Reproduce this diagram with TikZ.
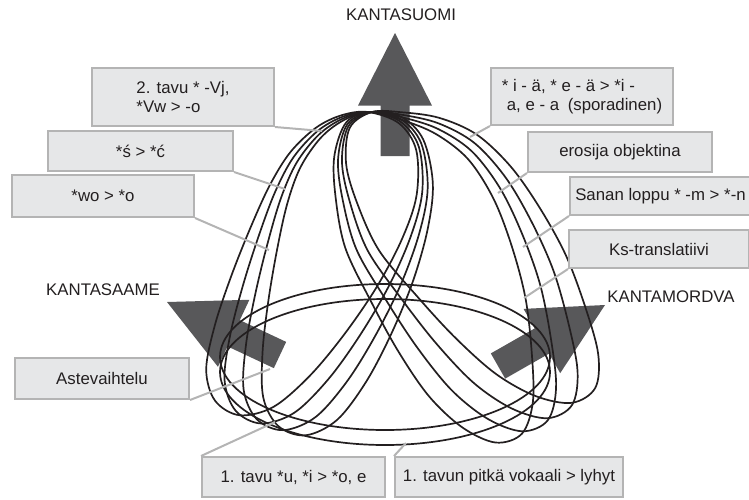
\documentclass[tikz,border=0pt]{standalone}
\usepackage{fontspec}
\setmainfont{Liberation Sans}
\usetikzlibrary{calc}
\definecolor{boxfill}{HTML}{E6E7E8}
\definecolor{boxline}{HTML}{B4B4B4}
\definecolor{arrowgray}{HTML}{58585A}
\definecolor{ink}{HTML}{231F20}
\newcommand\blockarrow[2]{%
  \coordinate (bah) at ($(#1)!0.41!(#2)$);
  \fill[arrowgray] ($(#1)!14.5pt!90:(#2)$) -- ($(bah)!14.5pt!90:(#2)$) -- ($(bah)!37pt!90:(#2)$) -- (#2)
    -- ($(bah)!37pt!-90:(#2)$) -- ($(bah)!14.5pt!-90:(#2)$) -- ($(#1)!14.5pt!-90:(#2)$) -- cycle;}
\begin{document}
\begin{tikzpicture}[x=1pt,y=-1pt,
  txt/.style={font=\fontsize{16.8}{18.5}\selectfont, text=ink},
  lbox/.style={txt, draw=boxline, line width=2pt, fill=boxfill, inner sep=0pt},
  conn/.style={draw=boxline, line width=2pt},
  lp/.style={draw=ink, line width=1.7pt}]
\useasboundingbox (0,0) rectangle (749,499);
% block arrows
\coordinate (tT) at (395,156); \coordinate (tP) at (395,33);
\coordinate (lT) at (280,355); \coordinate (lP) at (167,302);
\coordinate (rT) at (498,366); \coordinate (rP) at (605,305);
\blockarrow{tT}{tP}
\blockarrow{lT}{lP}
\blockarrow{rT}{rP}
% loops top-left
\foreach \r in {-6,-2,2,6} {
  \draw[lp, rotate around={\r:(368,112)}] plot[smooth cycle, tension=0.55] coordinates {
    (368,112) (342,118) (318,133) (295,160) (278,195) (263,240) (249,290) (238,340) (234,385)
    (246,415) (272,427) (305,415) (338,380) (368,335) (395,285) (415,235) (425,190) (420,145) (400,120)};
}
% loops top-right
\foreach \r in {-7,-2.3,2.3,7} {
  \draw[lp, rotate around={\r:(372,112)}] plot[smooth cycle, tension=0.55] coordinates {
    (372,112) (402,116) (438,126) (473,147) (503,183) (527,228) (547,278) (560,332) (567,380)
    (560,413) (535,425) (500,414) (463,387) (427,346) (394,300) (362,250) (346,200) (340,160) (348,125)};
}
% horizontal loops
\draw[lp] (385,357) ellipse [x radius=165pt, y radius=73pt];
\draw[lp] (385,372) ellipse [x radius=165pt, y radius=73pt];
% connector ends
\coordinate (c1) at (322,131); \coordinate (c2) at (285,189);
\coordinate (c3) at (269,250); \coordinate (c4) at (270,369);
\coordinate (c5) at (470,137); \coordinate (c6) at (498,193);
\coordinate (c7) at (523,247); \coordinate (c8) at (524,298);
\coordinate (c9) at (275,422); \coordinate (c10) at (406,443);
% labels
\node[txt] (kS) at (401,15) {KANTASUOMI};
\node[txt] (kSa) at (103,290) {KANTASAAME};
\node[txt] (kM) at (671,297) {KANTAMORDVA};
\node[lbox, minimum width=182pt, minimum height=58pt, align=left] (b1) at (183,97) {2. tavu * -Vj,\\*Vw > -o};
\node[lbox, minimum width=185pt, minimum height=40pt] (b2) at (140.5,151) {*ś > *ć};
\node[lbox, minimum width=182pt, minimum height=42pt] (b3) at (103,196) {*wo > *o};
\node[lbox, minimum width=174pt, minimum height=41pt] (b4) at (102,378.5) {Astevaihtelu};
\node[lbox, minimum width=182pt, minimum height=57pt, align=left] (b5) at (582,96.5) {* i - ä, * e - ä > *i -\\\hspace*{5pt}a, e - a\hspace{4pt} (sporadinen)};
\node[lbox, minimum width=184pt, minimum height=40pt] (b6) at (620,152) {erosija objektina};
\node[lbox, minimum width=181pt, minimum height=38pt] (b7) at (660.5,196) {Sanan loppu * -m > *-n};
\node[lbox, minimum width=180pt, minimum height=38pt] (b8) at (659,249) {Ks-translatiivi};
\node[lbox, minimum width=183pt, minimum height=40pt] (b9) at (293.5,477) {1. tavu *u, *i > *o, e};
\node[lbox, minimum width=228pt, minimum height=40pt] (b10) at (509,477) {1. tavun pitkä vokaali > lyhyt};
% connectors
\draw[conn] (b1.south east) -- (c1);
\draw[conn] (b2.south east) -- (c2);
\draw[conn] (b3.south east) -- (c3);
\draw[conn] (b4.south east) -- (c4);
\draw[conn] (b5.south west) -- (c5);
\draw[conn] (b6.south west) -- (c6);
\draw[conn] (b7.south west) -- (c7);
\draw[conn] (b8.south west) -- (c8);
\draw[conn] (b9.north west) -- (c9);
\draw[conn] (b10.north west) -- (c10);
\end{tikzpicture}
\end{document}
